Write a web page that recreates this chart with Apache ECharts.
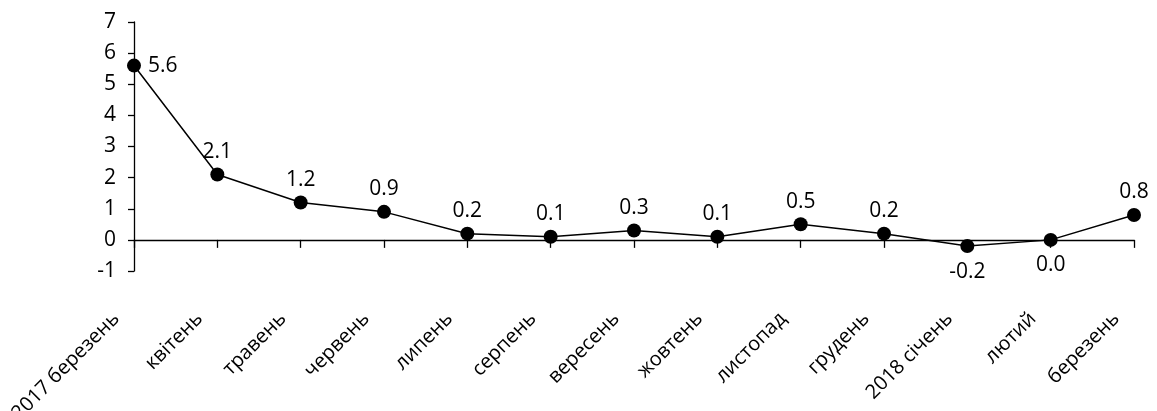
<!DOCTYPE html>
<html>
<head>
<meta charset="utf-8">
<script src="https://cdn.jsdelivr.net/npm/echarts@6/dist/echarts.min.js"></script>
<style>
html,body{margin:0;padding:0;background:#fff;}
#c{width:1157px;height:411px;}
</style>
</head>
<body>
<div id="c"></div>
<script>
var categories = ['2017 березень','квітень','травень','червень','липень','серпень','вересень','жовтень','листопад','грудень','2018 січень','лютий','березень'];
var values = [5.6, 2.1, 1.2, 0.9, 0.2, 0.1, 0.3, 0.1, 0.5, 0.2, -0.2, 0.0, 0.8];
var yTicks = { min: -1, max: 7, interval: 1 };

var FONT = 'Open Sans';
var chart = echarts.init(document.getElementById('c'));

var data = values.map(function (v, i) {
  var lab = { position: 'top', distance: 5 };
  if (i === 0) lab = { position: 'right', distance: 7 };
  else if (v <= 0) lab = { position: 'bottom', distance: 8 };
  return { value: v, label: lab };
});

chart.setOption({
  animation: false,
  backgroundColor: '#fff',
  grid: { left: 134, right: 23, top: 22, bottom: 140, containLabel: false, outerBoundsMode: 'none' },
  xAxis: [
    {
      type: 'category', data: categories, boundaryGap: false, position: 'top',
      axisLine: { show: true, onZero: true, lineStyle: { color: '#000', width: 1.3 } },
      axisTick: { show: true, inside: true, length: 8, interval: 0, lineStyle: { color: '#000', width: 1.3 } },
      axisLabel: { show: false }, splitLine: { show: false }
    },
    {
      type: 'category', data: categories, boundaryGap: false, position: 'bottom',
      axisLine: { show: false, onZero: false }, axisTick: { show: false }, splitLine: { show: false },
      axisLabel: { show: true, rotate: 45, margin: 27, color: '#000', fontFamily: FONT, fontSize: 20, interval: 0,
                   padding: [0, 25, 0, 0] }
    }
  ],
  yAxis: {
    type: 'value', min: yTicks.min, max: yTicks.max, interval: yTicks.interval,
    axisLine: { show: true, lineStyle: { color: '#000', width: 1.3 } },
    axisTick: { show: true, length: 6, lineStyle: { color: '#000', width: 1.3 } },
    splitLine: { show: false },
    axisLabel: { color: '#000', fontFamily: FONT, fontSize: 21, margin: 18 }
  },
  series: [{
    type: 'line', xAxisIndex: 0, data: data,
    symbol: 'circle', symbolSize: 14,
    itemStyle: { color: '#000' },
    lineStyle: { color: '#000', width: 1.5 },
    label: {
      show: true, color: '#000', fontFamily: FONT, fontSize: 21,
      formatter: function (p) { return Number(p.value).toFixed(1); }
    }
  }]
});
</script>
</body>
</html>
